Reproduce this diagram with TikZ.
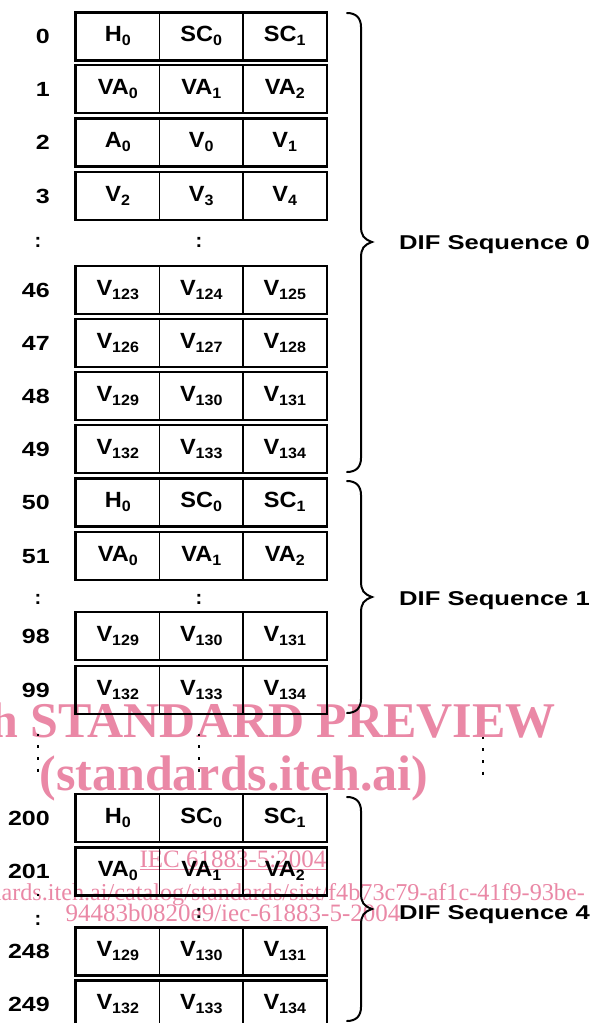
\documentclass[tikz,border=0pt]{standalone}
\usepackage{fontspec}
\setmainfont{Liberation Sans}
\newfontfamily\wmfont{Liberation Serif}
\usepackage{graphicx}
\definecolor{wmpink}{RGB}{234,136,166}
\newcommand{\ct}[2]{\scalebox{1.07}[1]{#1\raisebox{-4pt}{\fontsize{15}{15}\selectfont #2}}}
\newcommand{\mkrow}[6]{%
  \node[cell] (#1a) at (117.75,#2) {#3};
  \node[cell] (#1b) at (201.25,#2) {#4};
  \node[cell] (#1c) at (284.75,#2) {#5};
  \draw[rowframe] (#1a.north west) rectangle (#1c.south east);
  \node[rowlbl] (#1l) at (50,#2) {\scalebox{1.22}[1]{#6}};
}
\newcommand{\mkbrace}[3]{%
  \draw[bracestyle] (347,#1) .. controls (356,#1) and (361,{#1+5}) .. (361,{#1+14})
    -- (361,{#2-16}) .. controls (361,{#2-6}) and (364,{#2-3}) .. (372,#2)
    .. controls (364,{#2+3}) and (361,{#2+6}) .. (361,{#2+16})
    -- (361,{#3-14}) .. controls (361,{#3-5}) and (356,#3) .. (347,#3);
}
\begin{document}
\begin{tikzpicture}[x=1pt,y=-1pt,
  cell/.style={draw, line width=1.3pt, minimum width=83.5pt, minimum height=47pt,
    inner sep=0pt, text height=15.5pt, text depth=5pt,
    font=\fontsize{22}{24}\selectfont\bfseries},
  rowframe/.style={line width=2.2pt},
  rowlbl/.style={anchor=east, inner sep=0pt, text height=14pt, text depth=0pt,
    font=\fontsize{20.5}{24}\selectfont\bfseries},
  colon/.style={inner sep=0pt, font=\fontsize{20}{24}\selectfont\bfseries},
  seqlbl/.style={anchor=west, inner sep=0pt, text height=18pt, text depth=0pt,
    font=\fontsize{20}{24}\selectfont\bfseries},
  bracestyle/.style={line width=2pt, line cap=round},
  dotcol/.style={line width=2.8pt, dash pattern=on 2.8pt off 8.9pt},
  wmbig/.style={inner sep=0pt, text=wmpink, font=\wmfont\bfseries\fontsize{50}{50}\selectfont},
  wmsmall/.style={inner sep=0pt, text=wmpink, font=\wmfont\fontsize{25}{25}\selectfont}
]
\useasboundingbox (0,0) rectangle (595,1023);
\fill[white] (0,0) rectangle (595,1023);
% watermark
\node[wmbig, anchor=base east] (wm1) at (556,737) {iTeh STANDARD PREVIEW};
\node[wmbig, anchor=base] (wm2) at (234,790) {(standards.iteh.ai)};
\node[wmsmall, anchor=base] (wm3) at (233,867) {\underline{IEC 61883-5:2004}};
\node[wmsmall, anchor=base east, font=\wmfont\fontsize{24.2}{25}\selectfont] (wm4) at (585,900) {standards.iteh.ai/catalog/standards/sist/f4b73c79-af1c-41f9-93be-};
\node[wmsmall, anchor=base] (wm5) at (233,921) {94483b0820e9/iec-61883-5-2004};
% rows
\mkrow{r0}{36.5}{\ct{H}{0}}{\ct{SC}{0}}{\ct{SC}{1}}{0}
\mkrow{r1}{89}{\ct{VA}{0}}{\ct{VA}{1}}{\ct{VA}{2}}{1}
\mkrow{r2}{142.5}{\ct{A}{0}}{\ct{V}{0}}{\ct{V}{1}}{2}
\mkrow{r3}{196}{\ct{V}{2}}{\ct{V}{3}}{\ct{V}{4}}{3}
\mkrow{r46}{290}{\ct{V}{123}}{\ct{V}{124}}{\ct{V}{125}}{46}
\mkrow{r47}{343}{\ct{V}{126}}{\ct{V}{127}}{\ct{V}{128}}{47}
\mkrow{r48}{396}{\ct{V}{129}}{\ct{V}{130}}{\ct{V}{131}}{48}
\mkrow{r49}{449}{\ct{V}{132}}{\ct{V}{133}}{\ct{V}{134}}{49}
\mkrow{r50}{502.5}{\ct{H}{0}}{\ct{SC}{0}}{\ct{SC}{1}}{50}
\mkrow{r51}{556}{\ct{VA}{0}}{\ct{VA}{1}}{\ct{VA}{2}}{51}
\mkrow{r98}{636}{\ct{V}{129}}{\ct{V}{130}}{\ct{V}{131}}{98}
\mkrow{r99}{690}{\ct{V}{132}}{\ct{V}{133}}{\ct{V}{134}}{99}
\mkrow{r200}{818}{\ct{H}{0}}{\ct{SC}{0}}{\ct{SC}{1}}{200}
\mkrow{r201}{871.5}{\ct{VA}{0}}{\ct{VA}{1}}{\ct{VA}{2}}{201}
\mkrow{r248}{951.5}{\ct{V}{129}}{\ct{V}{130}}{\ct{V}{131}}{248}
\mkrow{r249}{1004.5}{\ct{V}{132}}{\ct{V}{133}}{\ct{V}{134}}{249}
% colons
\node[colon] (k0a) at (38,242) {:};
\node[colon] (k0b) at (199,242) {:};
\node[colon] (k1a) at (38,599) {:};
\node[colon] (k1b) at (199,599) {:};
\node[colon] (k4a) at (38,920) {:};
\node[colon] (k4b) at (199,913) {:};
\fill (36.6,893.6) rectangle (39.4,896.4);
% vertical dots
\draw[dotcol] (38,733.6) -- (38,772);
\draw[dotcol] (199,733.6) -- (199,772);
\draw[dotcol] (483,736.6) -- (483,775);
% braces
\mkbrace{13}{242}{472}
\mkbrace{481}{597}{713}
\mkbrace{797}{909}{1021}
\node[seqlbl] (s0) at (399,240) {\scalebox{1.28}[1]{DIF Sequence 0}};
\node[seqlbl] (s1) at (399,596) {\scalebox{1.28}[1]{DIF Sequence 1}};
\node[seqlbl] (s4) at (399,910) {\scalebox{1.28}[1]{DIF Sequence 4}};
\end{tikzpicture}
\end{document}
